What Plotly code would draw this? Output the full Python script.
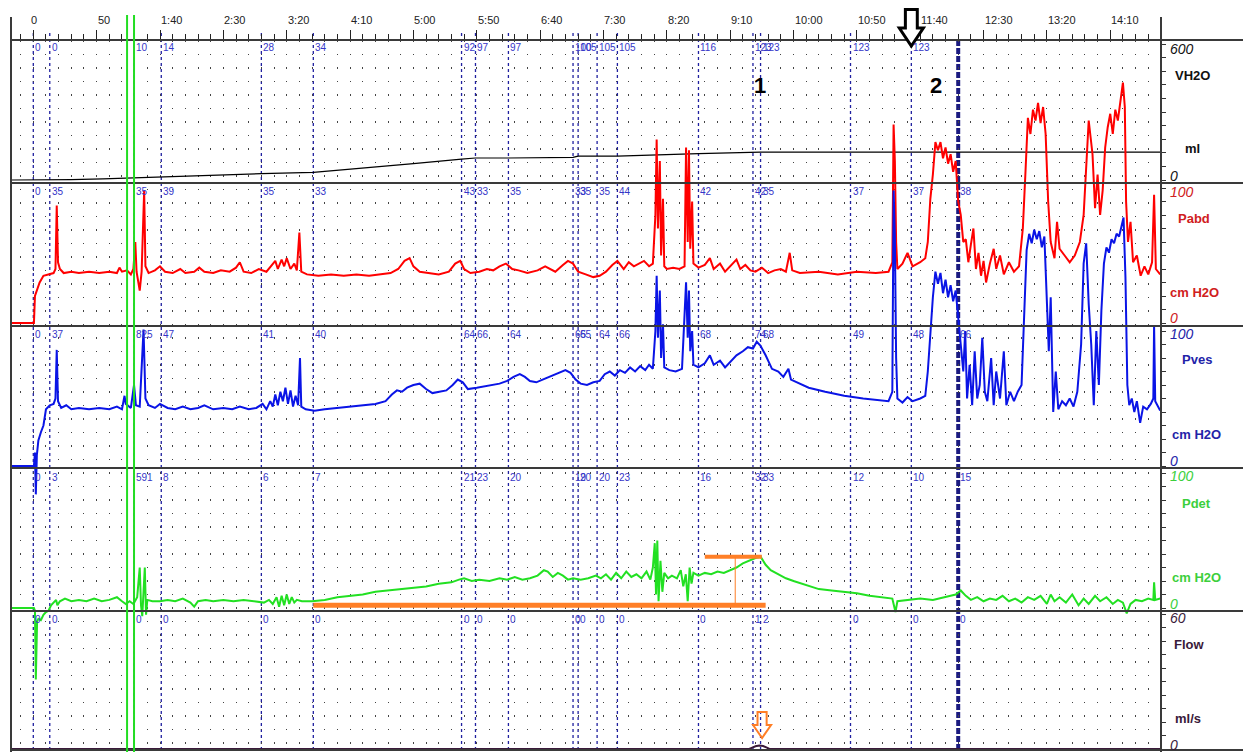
import plotly.graph_objects as go

# ---------------- data ----------------
time_tick_vals = [0, 50, 100, 150, 200, 250, 300, 350, 400, 450, 500, 550, 600, 650, 700, 750, 800, 850]
time_tick_text = ["0", "50", "1:40", "2:30", "3:20", "4:10", "5:00", "5:50", "6:40", "7:30",
                  "8:20", "9:10", "10:00", "10:50", "11:40", "12:30", "13:20", "14:10"]

# infused volume (ml)
vol_points = [(-17.6, 0), (0, 0), (13, 0), (30, 2), (55, 5), (79.5, 10), (101, 14), (140, 20),
              (180, 28), (221, 34), (260, 52), (300, 72), (338, 92), (349, 97), (375, 97),
              (426, 100), (430, 105), (445, 105), (461, 105), (525, 116), (568, 123), (574, 123),
              (889.4, 123)]

# abdominal pressure (cm H2O)
pabd_points = [
    (-17.6, 0), (0.5, 0), (1.3, 20), (3, 25), (5, 30), (8, 35), (12, 36), (16, 37), (17.5, 40), (18.5, 87),
    (19.5, 45), (21, 40), (24, 37), (30, 38), (36, 37), (44, 38), (52, 37), (60, 38), (66, 37), (68, 41),
    (70, 38), (74, 39), (77, 36), (79, 40), (80.5, 60), (81.5, 38), (84, 24), (85.5, 38), (87.5, 98),
    (88.5, 42), (91, 37), (96, 39), (100, 42), (104, 38), (110, 37), (116, 40), (120, 37), (127, 38),
    (131, 41), (135, 38), (142, 37), (148, 39), (155, 38), (160, 41), (163, 45), (166, 38), (172, 37),
    (178, 40), (184, 38), (188, 43), (191, 46), (193, 40), (196, 47), (198, 42), (200, 48), (203, 40),
    (206, 44), (208, 39), (210, 67), (211.5, 38), (216, 36), (225, 35), (235, 36), (245, 35), (255, 36),
    (265, 35), (275, 36), (282, 37), (288, 40), (293, 46), (297, 48), (300, 42), (305, 38), (312, 37),
    (320, 36), (328, 38), (333, 44), (337, 46), (340, 40), (345, 37), (352, 38), (358, 40), (363, 39),
    (368, 42), (373, 44), (378, 40), (383, 39), (390, 37), (398, 39), (404, 42), (408, 40), (412, 38),
    (418, 43), (422, 46), (426, 44), (430, 38), (436, 36), (442, 34), (447, 35), (452, 38), (457, 43),
    (461, 46), (466, 40), (470, 45), (474, 42), (478, 44), (482, 46), (486, 42), (489, 44), (491, 80),
    (492, 136), (493, 70), (494.5, 120), (495.5, 50), (497, 92), (498, 42), (500, 40), (505, 41),
    (510, 40), (514, 42), (515.2, 130), (516.5, 60), (517.5, 128), (518.5, 55), (520, 90), (521, 44),
    (525, 41), (530, 43), (534, 48), (537, 40), (542, 44), (546, 38), (550, 42), (555, 47), (558, 40),
    (562, 43), (566, 39), (570, 38), (575, 41), (580, 37), (585, 39), (590, 40), (594, 38), (597, 52),
    (599, 39), (605, 37), (620, 38), (635, 36), (650, 38), (665, 37), (675, 38), (678, 45), (679, 147),
    (680, 120), (681, 60), (682, 40), (686, 44), (690, 52), (694, 42), (700, 45), (704, 48), (706, 60),
    (708, 92), (710, 110), (712, 134), (714, 128), (716, 134), (718, 122), (720, 130), (722, 118),
    (724, 125), (726, 112), (728, 120), (730, 90), (732, 80), (734, 60), (736, 62), (738, 45), (740, 58),
    (742, 70), (744, 40), (746, 52), (748, 35), (750, 46), (752, 30), (755, 44), (758, 55), (760, 40),
    (763, 50), (766, 36), (770, 45), (774, 38), (778, 42), (781, 70), (783, 110), (785, 152), (787, 140),
    (789, 158), (791, 150), (793, 163), (795, 148), (797, 160), (799, 140), (801, 90), (803, 60),
    (806, 48), (808, 75), (810, 55), (814, 50), (818, 45), (822, 50), (826, 60), (829, 80), (831, 120),
    (833, 150), (836, 125), (838, 85), (840, 110), (842, 80), (844, 98), (846, 130), (848, 145),
    (850, 155), (852, 140), (854, 158), (856, 150), (858, 165), (860, 178), (861.5, 160), (862.5, 90),
    (864, 60), (866, 75), (868, 45), (871, 50), (874, 35), (877, 42), (880, 36), (883, 45), (884.6, 95),
    (886, 40), (889.4, 36)]

# vesical pressure (cm H2O)
pves_points = [
    (-17.6, 0), (0.5, 0), (1.3, 10), (2, -21), (2.8, 8), (4, 19), (6, 25), (8, 30), (10, 42), (13, 45),
    (16, 46), (17.5, 50), (18.5, 86), (19.5, 48), (22, 43), (26, 45), (30, 42), (36, 43), (44, 42),
    (52, 43), (60, 42), (66, 44), (70, 42), (72, 52), (73, 46), (77, 43), (79.5, 60), (81, 45), (84, 44),
    (87, 101), (88.5, 50), (91, 45), (96, 43), (100, 46), (106, 43), (112, 42), (118, 44), (124, 42),
    (130, 43), (135, 45), (142, 42), (150, 43), (157, 42), (163, 44), (170, 42), (176, 43), (181, 46),
    (184, 42), (187, 48), (189, 44), (191, 53), (193, 45), (195, 55), (197, 48), (199, 58), (201, 46),
    (203, 56), (205, 44), (207, 52), (209, 45), (210.5, 80), (211.5, 44), (215, 42), (222, 41), (230, 42),
    (240, 43), (250, 44), (260, 45), (270, 46), (278, 48), (283, 53), (287, 56), (291, 55), (295, 58),
    (300, 60), (305, 61), (310, 57), (315, 54), (320, 55), (326, 56), (331, 60), (335, 64), (339, 62),
    (343, 57), (350, 58), (356, 59), (362, 60), (368, 61), (374, 63), (379, 66), (384, 68), (388, 66),
    (392, 63), (397, 62), (402, 64), (407, 66), (412, 68), (416, 70), (420, 71), (424, 69), (428, 64),
    (432, 61), (437, 60), (442, 62), (447, 63), (451, 68), (455, 70), (459, 67), (463, 71), (467, 69),
    (471, 73), (475, 70), (479, 74), (483, 71), (486, 75), (489, 72), (491, 100), (492, 141), (493, 95),
    (494.5, 130), (495.5, 80), (497, 105), (498, 73), (502, 71), (507, 70), (512, 72), (515.2, 136),
    (516.5, 95), (517.5, 130), (518.5, 85), (520, 100), (521, 75), (525, 73), (530, 76), (534, 82),
    (537, 75), (542, 78), (546, 73), (550, 77), (555, 82), (560, 85), (564, 88), (568, 87), (571, 92),
    (574, 89), (578, 82), (583, 72), (588, 70), (592, 66), (596, 72), (598, 64), (603, 62), (612, 58),
    (625, 55), (640, 52), (655, 50), (668, 49), (675, 48), (678, 55), (679, 204), (680, 170), (681, 80),
    (682, 50), (686, 47), (690, 51), (694, 48), (700, 50), (704, 52), (706, 70), (708, 100), (710, 125),
    (712, 144), (714, 135), (716, 143), (718, 128), (720, 138), (722, 125), (724, 134), (726, 122),
    (728, 130), (730, 110), (732, 95), (734, 70), (735.5, 100), (737, 50), (739, 75), (741, 45),
    (743, 85), (745, 50), (747, 60), (749, 95), (751, 55), (753, 48), (756, 80), (758, 45), (760, 70),
    (763, 50), (766, 85), (768, 45), (771, 55), (774, 48), (777, 55), (780, 60), (782, 110), (784, 160),
    (786, 172), (788, 165), (790, 175), (792, 168), (794, 174), (796, 162), (798, 170), (800, 120),
    (801.5, 85), (803, 125), (805, 40), (807, 70), (809, 42), (812, 48), (815, 45), (818, 50), (821, 44),
    (824, 55), (827, 90), (829, 150), (831, 165), (833, 120), (835, 90), (837, 45), (839, 100), (841, 60),
    (843, 115), (845, 150), (847, 162), (849, 158), (851, 168), (853, 165), (855, 172), (857, 170),
    (859, 178), (860.5, 184), (862, 140), (863.5, 60), (865, 45), (867, 50), (869, 40), (871, 48),
    (873.6, 32), (876, 44), (879, 42), (882, 46), (884, 50), (884.6, 104), (885.5, 48), (889.4, 41)]

# detrusor pressure (cm H2O)
pdet_points = [
    (-17.6, 0), (0.5, 0), (1.3, -2), (2, -53), (3, -10), (4, -8), (6, -9), (8, -5), (10, -3), (12, -2),
    (14, 2), (16, 4), (18, 6), (19, 2), (21, 5), (25, 7), (30, 5), (36, 6), (42, 5), (48, 7), (54, 5),
    (60, 6), (66, 8), (70, 5), (73, 3), (76, 5), (79, 3), (82, 8), (84, 30), (85, 2), (86, -6), (87, 12),
    (88, 30), (89, -5), (90, 6), (94, 5), (100, 5), (106, 6), (112, 5), (118, 7), (124, 4), (127, 1),
    (130, 5), (136, 6), (142, 5), (150, 6), (158, 5), (166, 6), (174, 5), (182, 4), (186, 6), (189, 3),
    (192, 8), (194, 1), (196, 9), (198, 2), (200, 10), (202, 3), (204, 8), (206, 4), (208, 6), (212, 5),
    (220, 5), (230, 6), (240, 8), (250, 9), (260, 10), (270, 12), (280, 13), (290, 14), (300, 15),
    (310, 16), (320, 18), (330, 19), (336, 21), (340, 22), (346, 20), (352, 21), (360, 20), (368, 22),
    (374, 21), (380, 23), (386, 21), (392, 22), (398, 24), (403, 28), (406, 27), (410, 23), (414, 26),
    (418, 24), (422, 21), (426, 22), (432, 21), (438, 22), (444, 24), (448, 22), (452, 25), (456, 21),
    (460, 26), (464, 22), (468, 27), (472, 23), (476, 25), (480, 22), (484, 27), (487, 21), (489, 30),
    (490.5, 48), (491.5, 10), (492.5, 50), (493.5, 5), (495, 35), (496.5, 12), (498, 26), (501, 22),
    (504, 24), (508, 22), (511, 28), (513, 16), (515, 25), (516.5, 5), (518, 30), (519.5, 18), (521, 26),
    (525, 24), (530, 26), (535, 25), (540, 27), (545, 26), (550, 28), (555, 30), (560, 33), (565, 35),
    (570, 37), (574, 38), (578, 32), (582, 28), (588, 25), (594, 22), (600, 20), (610, 17), (620, 14),
    (630, 13), (640, 12), (650, 11), (660, 9), (670, 8), (678, 7), (679, 3), (680.5, -3), (682, 5),
    (690, 6), (700, 7), (710, 6), (720, 8), (728, 10), (732, 13), (736, 9), (740, 6), (745, 8), (750, 5),
    (755, 7), (760, 6), (765, 9), (770, 5), (775, 7), (780, 4), (785, 8), (790, 6), (795, 9), (800, 3),
    (803, 10), (806, 5), (810, 8), (815, 4), (820, 10), (825, 2), (829, 7), (833, 3), (838, 9), (842, 5),
    (847, 8), (852, 3), (856, 6), (860, 4), (863, -4), (866, 3), (870, 6), (875, 5), (880, 7), (884, 6),
    (884.6, 19), (885.5, 6), (889.4, 7)]

# uroflow (ml/s)
flow_points = [(-17.6, 0), (565, 0), (567, 0.5), (570, 1.2), (573, 1.5), (576, 1.3), (579, 0.6),
               (581, 0), (889.4, 0)]

# event markers (s) and the values printed beside them in each channel
event_t = [0, 13, 79.5, 101, 180, 221, 338, 349, 375, 426, 430, 445, 461, 525, 568, 574, 645, 693, 730]
event_vol = ["0", "0", "10", "14", "28", "34", "92", "97", "97", "100", "105", "105", "105", "116",
             "123", "123", "123", "123", ""]
event_pabd = ["0", "35", "35", "39", "35", "33", "43", "33", "35", "33", "35", "35", "44", "42",
              "42", "35", "37", "37", "38"]
event_pves = ["0", "37", "825", "47", "41", "40", "64", "66", "64", "65", "65", "64", "66", "68",
              "74", "68", "49", "48", "66"]
event_pdet = ["0", "3", "591", "8", "6", "7", "21", "23", "20", "19", "20", "20", "23", "16",
              "32", "33", "12", "10", "15"]
event_flow = ["0", "0", "0", "0", "0", "0", "0", "0", "0", "0", "0", "0", "0", "0",
              "1", "2", "0", "0", "0"]
main_event_t = 730          # thick marker
green_marks_t = [74, 79.5]  # green markers
note_labels = ["1", "2"]
note_t = [573.6, 712.5]

# orange annotation on Pdet: baseline, peak level, vertical (time s / cm H2O)
orange_base = (221, 578, 2)
orange_peak = (530, 575, 38)
orange_vert_t = 554

# ---------------- geometry ----------------
OFF = 8                      # page body margin of the html page
W, H = 1251 - OFF, 752 - OFF
PL, PR, PT, PB = 11, 1161, 40, 750   # plot-area edges in window pixels
T0_PX, PX_PER_S = 33.3, 1.267
t_min = (PL - T0_PX) / PX_PER_S
t_max = (PR - T0_PX) / PX_PER_S


def py(p):
    return (PB - p) / (PB - PT)


def pxp(p):
    return (p - PL) / (PR - PL)


channels = [
    dict(pts=vol_points, vmax=600, zero=180, full=44, color="#000000", width=1.2, lab="#111111",
         name="VH2O", unit="ml", top_y=49, name_y=75, unit_y=148, zero_y=176, name_x=1173, unit_x=1183,
         maxtxt="600", ev=event_vol, ev_y=48),
    dict(pts=pabd_points, vmax=100, zero=323, full=188, color="#ff0000", width=2, lab="#d02020",
         name="Pabd", unit="cm H2O", top_y=192, name_y=218, unit_y=292, zero_y=318, name_x=1176,
         unit_x=1168, maxtxt="100", ev=event_pabd, ev_y=191),
    dict(pts=pves_points, vmax=100, zero=466, full=331, color="#0a14e6", width=2, lab="#2323a8",
         name="Pves", unit="cm H2O", top_y=334, name_y=360, unit_y=435, zero_y=461, name_x=1180,
         unit_x=1170, maxtxt="100", ev=event_pves, ev_y=334),
    dict(pts=pdet_points, vmax=100, zero=608, full=473, color="#22e022", width=2, lab="#3ccf3c",
         name="Pdet", unit="cm H2O", top_y=476, name_y=503, unit_y=577, zero_y=604, name_x=1180,
         unit_x=1170, maxtxt="100", ev=event_pdet, ev_y=477),
    dict(pts=flow_points, vmax=60, zero=749, full=614, color="#3a1a3a", width=2, lab="#3a1a3a",
         name="Flow", unit="ml/s", top_y=618, name_y=644, unit_y=718, zero_y=745, name_x=1172,
         unit_x=1173, maxtxt="60", ev=event_flow, ev_y=619),
]

fig = go.Figure()
for i, ch in enumerate(channels):
    ts = [p[0] for p in ch["pts"]]
    vs = [p[1] for p in ch["pts"]]
    fig.add_trace(go.Scatter(x=ts, y=vs, mode="lines", yaxis="y" if i == 0 else f"y{i+1}",
                             line=dict(color=ch["color"], width=ch["width"]), hoverinfo="skip",
                             showlegend=False))

layout_axes = {}
for i, ch in enumerate(channels):
    s = (ch["zero"] - ch["full"]) / ch["vmax"]
    rng = [(ch["zero"] - PB) / s, (ch["zero"] - PT) / s]
    step = ch["vmax"] / 10
    ax = dict(range=rng, domain=[0, 1], side="right", anchor="x", showgrid=False, zeroline=False,
              showline=False, showticklabels=False, ticks="outside", ticklen=4, tickwidth=1,
              tickcolor="#333", tickvals=[k * step for k in range(11)], fixedrange=True)
    if i > 0:
        ax["overlaying"] = "y"
    layout_axes["yaxis" if i == 0 else f"yaxis{i+1}"] = ax

shapes = []
annotations = []

# horizontal separators and frame
for p in [PT, 183, 326, 468, 611, PB]:
    shapes.append(dict(type="line", xref="paper", yref="paper", x0=0, x1=pxp(1251), y0=py(p), y1=py(p),
                       line=dict(color="#3a3a3a", width=2), layer="above"))
for xx in [0, 1]:
    shapes.append(dict(type="line", xref="paper", yref="paper", x0=xx, x1=xx, y0=py(PB + 2), y1=py(17),
                       line=dict(color="#3a3a3a", width=2), layer="above"))

# event markers
for k, t in enumerate(event_t):
    thick = (t == main_event_t)
    shapes.append(dict(type="line", xref="x", yref="paper", x0=t, x1=t, y0=0, y1=py(PT if thick else 30),
                       line=dict(color="#1a1a80" if thick else "#2020a0", width=4 if thick else 1.3,
                                 dash="6px,2px" if thick else "3px,3px"), layer="between"))
    for ch in channels:
        txt = ch["ev"][k]
        if txt:
            annotations.append(dict(x=t, y=py(ch["ev_y"]), xref="x", yref="paper", text=txt,
                                    showarrow=False, xanchor="left", yanchor="middle", xshift=0,
                                    font=dict(family="Liberation Sans", size=10, color="#3535c8")))

for t in green_marks_t:
    shapes.append(dict(type="line", xref="x", yref="paper", x0=t, x1=t, y0=py(PB + 2), y1=py(15),
                       line=dict(color="#22dd22", width=2), layer="above"))

# orange annotations on Pdet
shapes.append(dict(type="line", xref="x", yref="y4", x0=orange_base[0], x1=orange_base[1],
                   y0=orange_base[2], y1=orange_base[2], line=dict(color="#ff7f27", width=5), layer="above"))
shapes.append(dict(type="line", xref="x", yref="y4", x0=orange_peak[0], x1=orange_peak[1],
                   y0=orange_peak[2], y1=orange_peak[2], line=dict(color="#ff7f27", width=4), layer="above"))
shapes.append(dict(type="line", xref="x", yref="y4", x0=orange_vert_t, x1=orange_vert_t,
                   y0=orange_base[2], y1=orange_peak[2], line=dict(color="#ff7f27", width=1), layer="above"))


def arrow_path(tc, p_top, p_neck, p_tip, half_shaft, half_head):
    return (f"M {tc-half_shaft},{py(p_top)} L {tc+half_shaft},{py(p_top)} L {tc+half_shaft},{py(p_neck)} "
            f"L {tc+half_head},{py(p_neck)} L {tc},{py(p_tip)} L {tc-half_head},{py(p_neck)} "
            f"L {tc-half_shaft},{py(p_neck)} Z")


shapes.append(dict(type="path", xref="x", yref="paper", path=arrow_path(693, 9.5, 28, 46, 4.7, 9.5),
                   line=dict(color="#000000", width=3), fillcolor="#ffffff", layer="above"))
shapes.append(dict(type="path", xref="x", yref="paper", path=arrow_path(575.2, 712, 725, 738, 3.6, 7.1),
                   line=dict(color="#ff7f27", width=2), fillcolor="rgba(255,255,255,0)", layer="above"))

# time tick labels
for tv, tt in zip(time_tick_vals, time_tick_text):
    annotations.append(dict(x=tv, y=py(20), xref="x", yref="paper", text=tt, showarrow=False,
                            xanchor="left" if tv > 0 else "center", yanchor="middle",
                            xshift=-1 if tv > 0 else 1,
                            font=dict(family="Liberation Sans", size=11, color="#222")))

# channel labels on the right
for ch in channels:
    c = ch["lab"]
    annotations.append(dict(x=pxp(1168), y=py(ch["top_y"]), xref="paper", yref="paper",
                            text=f"<i>{ch['maxtxt']}</i>", showarrow=False, xanchor="left", yanchor="middle",
                            font=dict(family="Liberation Sans", size=14, color=c)))
    annotations.append(dict(x=pxp(1168), y=py(ch["zero_y"]), xref="paper", yref="paper",
                            text="<i>0</i>", showarrow=False, xanchor="left", yanchor="middle",
                            font=dict(family="Liberation Sans", size=14, color=c)))
    annotations.append(dict(x=pxp(ch["name_x"]), y=py(ch["name_y"]), xref="paper", yref="paper",
                            text=f"<b>{ch['name']}</b>", showarrow=False, xanchor="left", yanchor="middle",
                            font=dict(family="Liberation Sans", size=13, color=c)))
    annotations.append(dict(x=pxp(ch["unit_x"]), y=py(ch["unit_y"]), xref="paper", yref="paper",
                            text=f"<b>{ch['unit']}</b>", showarrow=False, xanchor="left", yanchor="middle",
                            font=dict(family="Liberation Sans", size=13, color=c)))

for t, txt in zip(note_t, note_labels):
    annotations.append(dict(x=t, y=py(85), xref="x", yref="paper", text=f"<b>{txt}</b>", showarrow=False,
                            xanchor="center", yanchor="middle",
                            font=dict(family="Liberation Sans", size=22, color="#000")))

fig.update_layout(
    width=W, height=H,
    margin=dict(l=PL - OFF, r=(1251 - OFF) - (PR - OFF), t=PT - OFF, b=(752 - OFF) - (PB - OFF), pad=0),
    paper_bgcolor="white", plot_bgcolor="white", showlegend=False,
    xaxis=dict(range=[t_min, t_max], side="top", anchor="y", tickmode="linear", tick0=0, dtick=50,
               ticks="outside", ticklen=9, tickwidth=1.2, tickcolor="#222", showticklabels=False,
               showgrid=True, gridcolor="#444", gridwidth=1.3, griddash="1.5px,12px",
               zeroline=False, showline=False, fixedrange=True,
               minor=dict(dtick=10, tick0=0, ticks="outside", ticklen=5, tickwidth=1, tickcolor="#222",
                          showgrid=True, gridcolor="#444", gridwidth=1.3, griddash="1.5px,12px")),
    shapes=shapes, annotations=annotations, **layout_axes,
)

fig.write_html("out.html")
